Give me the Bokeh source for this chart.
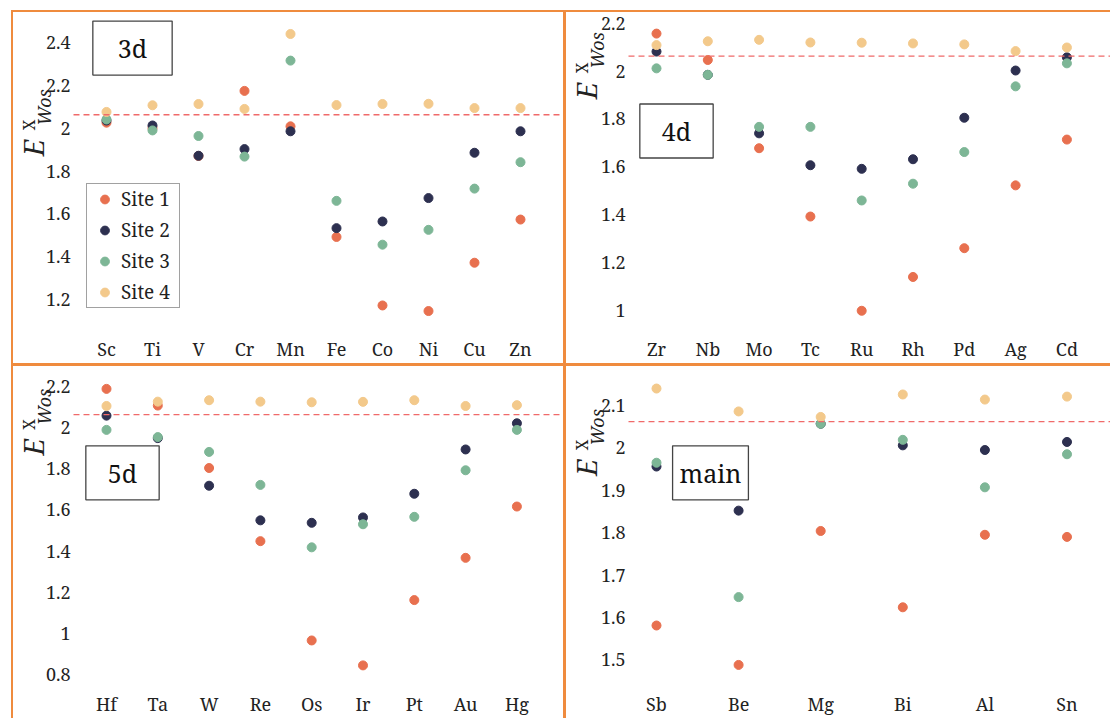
import numpy as np
from bokeh.plotting import figure
from bokeh.models import (Range1d, FixedTicker, NumeralTickFormatter, Label,
                          Legend, LegendItem, GridBox, ColumnDataSource)
from bokeh.embed import file_html
from bokeh.resources import INLINE

# ---------------- data ----------------
cats_3d = ["Sc", "Ti", "V", "Cr", "Mn", "Fe", "Co", "Ni", "Cu", "Zn"]
s1_3d = [2.025, 2.000, 1.870, 2.173, 2.008, 1.493, 1.174, 1.148, 1.373, 1.574]
s2_3d = [2.035, 2.012, 1.871, 1.902, 1.985, 1.534, 1.565, 1.674, 1.885, 1.985]
s3_3d = [2.040, 1.989, 1.963, 1.867, 2.314, 1.661, 1.457, 1.526, 1.718, 1.841]
s4_3d = [2.075, 2.106, 2.112, 2.089, 2.438, 2.107, 2.112, 2.113, 2.093, 2.093]

cats_4d = ["Zr", "Nb", "Mo", "Tc", "Ru", "Rh", "Pd", "Ag", "Cd"]
s1_4d = [2.156, 2.046, 1.678, 1.393, 1.000, 1.141, 1.261, 1.523, 1.714]
s2_4d = [2.081, 1.984, 1.740, 1.607, 1.592, 1.632, 1.805, 2.002, 2.057]
s3_4d = [2.011, 1.984, 1.767, 1.767, 1.460, 1.530, 1.662, 1.936, 2.032]
s4_4d = [2.108, 2.124, 2.130, 2.119, 2.118, 2.115, 2.111, 2.083, 2.098]

cats_5d = ["Hf", "Ta", "W", "Re", "Os", "Ir", "Pt", "Au", "Hg"]
s1_5d = [2.187, 2.106, 1.803, 1.448, 0.966, 0.845, 1.162, 1.367, 1.616]
s2_5d = [2.057, 1.948, 1.717, 1.549, 1.537, 1.563, 1.678, 1.893, 2.020]
s3_5d = [1.988, 1.953, 1.881, 1.721, 1.418, 1.530, 1.566, 1.792, 1.988]
s4_5d = [2.104, 2.125, 2.132, 2.125, 2.122, 2.124, 2.132, 2.104, 2.108]

cats_main = ["Sb", "Be", "Mg", "Bi", "Al", "Sn"]
s1_main = [1.581, 1.488, 1.804, 1.624, 1.795, 1.790]
s2_main = [1.956, 1.852, 2.057, 2.006, 1.995, 2.014]
s3_main = [1.965, 1.648, 2.057, 2.019, 1.907, 1.985]
s4_main = [2.140, 2.086, 2.073, 2.126, 2.114, 2.121]

ticks_3d = [1.2, 1.4, 1.6, 1.8, 2.0, 2.2, 2.4]
ticks_4d = [1.0, 1.2, 1.4, 1.6, 1.8, 2.0, 2.2]
ticks_5d = [0.8, 1.0, 1.2, 1.4, 1.6, 1.8, 2.0, 2.2]
ticks_main = [1.5, 1.6, 1.7, 1.8, 1.9, 2.0, 2.1]

site_names = ["Site 1", "Site 2", "Site 3", "Site 4"]
reference_value = 2.062

# ---------------- style ----------------
COLORS = ["#E8704F", "#2D3050", "#7DB696", "#F3C98B"]
ORANGE = "#EF8B3E"
TXT = "#222222"
FONT = "Noto Serif"


def make_panel(title, cats, series, ticks, w, h, axis_px, first_px, fh, dx,
               y_end, ppu, box_center, box_pad, legend=False, standoff=8):
    # frame spans the whole panel width; y axis drawn at a fixed location
    x_start = -(axis_px + first_px) / dx
    x_end = x_start + w / dx
    y_start = y_end - fh / ppu

    def to_data(rx, ry):
        return x_start + rx / dx, y_end - ry / ppu

    p = figure(width=w, height=h, x_range=Range1d(x_start, x_end),
               y_range=Range1d(y_start, y_end), output_backend="svg",
               toolbar_location=None, min_border_left=0, min_border_right=0,
               min_border_top=0, min_border_bottom=h - fh,
               background_fill_color="white", border_fill_color="white",
               outline_line_color=None, styles={"background-color": "white"})
    p.grid.visible = False

    xs = list(range(len(cats)))
    items = []
    for name, vals, col in zip(site_names, series, COLORS):
        src = ColumnDataSource(dict(x=xs, y=vals, el=cats))
        r = p.scatter("x", "y", source=src, size=9, fill_color=col, line_color=col)
        items.append(LegendItem(label=name, renderers=[r]))

    x_axis_loc = x_start + axis_px / dx
    p.segment(x0=[x_axis_loc], y0=[reference_value], x1=[x_end], y1=[reference_value],
              line_color="#F06A6A", line_width=1.4, line_dash="6 4")

    for ax in p.axis:
        ax.axis_line_color = None
        ax.major_tick_line_color = None
        ax.minor_tick_line_color = None
        ax.major_tick_out = 0
        ax.major_tick_in = 0
        ax.minor_tick_out = 0
        ax.major_label_text_font = FONT
        ax.major_label_text_font_size = "18px"
        ax.major_label_text_color = TXT
    p.xaxis.ticker = FixedTicker(ticks=xs)
    p.xaxis.major_label_overrides = {i: c for i, c in enumerate(cats)}
    p.xaxis.major_label_standoff = standoff
    p.yaxis.ticker = FixedTicker(ticks=ticks)
    p.yaxis.formatter = NumeralTickFormatter(format="0.[0]")
    p.yaxis.major_label_standoff = 3
    p.yaxis.fixed_location = x_axis_loc

    # y-axis label E^X_Wos built from text pieces, centred near y = 2.0
    ry2 = (y_end - 2.0) * ppu
    for txt, rx, ry, size, style in [("E", 20, ry2 + 20, "27px", "italic"),
                                     ("X", 15, ry2 - 3, "16px", "normal"),
                                     ("Wos", 30, ry2 - 21, "18px", "italic")]:
        lx, ly = to_data(rx, ry)
        p.add_layout(Label(x=lx, y=ly, text=txt, angle=np.pi / 2,
                           text_align="center", text_baseline="middle",
                           text_font=FONT, text_font_size=size,
                           text_font_style=style, text_color=TXT))

    bx, by = to_data(*box_center)
    p.add_layout(Label(x=bx, y=by, text=title, text_align="center",
                       text_baseline="middle", text_font=FONT,
                       text_font_size="25px", text_color="#111111",
                       border_line_color="#444444", border_line_width=1.3,
                       background_fill_color="white", padding=box_pad))

    if legend:
        lg = Legend(items=items, location=(73, 20), margin=0,
                    label_text_font=FONT, label_text_font_size="19px",
                    label_text_color=TXT, border_line_color="#444444",
                    border_line_width=1.3, background_fill_color="white",
                    background_fill_alpha=1.0, padding=2, spacing=5,
                    glyph_width=31, glyph_height=22, label_height=22,
                    label_standoff=1, label_width=56)
        p.add_layout(lg)
    return p


p1 = make_panel("3d", cats_3d, [s1_3d, s2_3d, s3_3d, s4_3d], ticks_3d,
                550, 351, 60, 33, 320, 46.0, 2.538, 217.5, (119, 36), (25, 10),
                legend=True)
p2 = make_panel("4d", cats_4d, [s1_4d, s2_4d, s3_4d, s4_4d], ticks_4d,
                544, 351, 62, 28, 320, 51.3, 2.244, 242.8, (110, 120), (22, 10))
p3 = make_panel("5d", cats_5d, [s1_5d, s2_5d, s3_5d, s4_5d], ticks_5d,
                550, 352, 60, 33, 322, 51.3, 2.2956, 209.3, (109, 108), (22, 10))
p4 = make_panel("main", cats_main, [s1_main, s2_main, s3_main, s4_main], ticks_main,
                544, 352, 62, 28, 322, 82.1, 2.192, 430.6, (144, 108), (7, 10))

grid = GridBox(children=[(p1, 0, 0), (p2, 0, 1), (p3, 1, 0), (p4, 1, 1)],
               spacing=3,
               styles={"background-color": ORANGE, "padding": "2px 0px 0px 2px",
                       "margin-left": "11px", "margin-top": "10px"})

open("out.html", "w").write(file_html(grid, INLINE))
